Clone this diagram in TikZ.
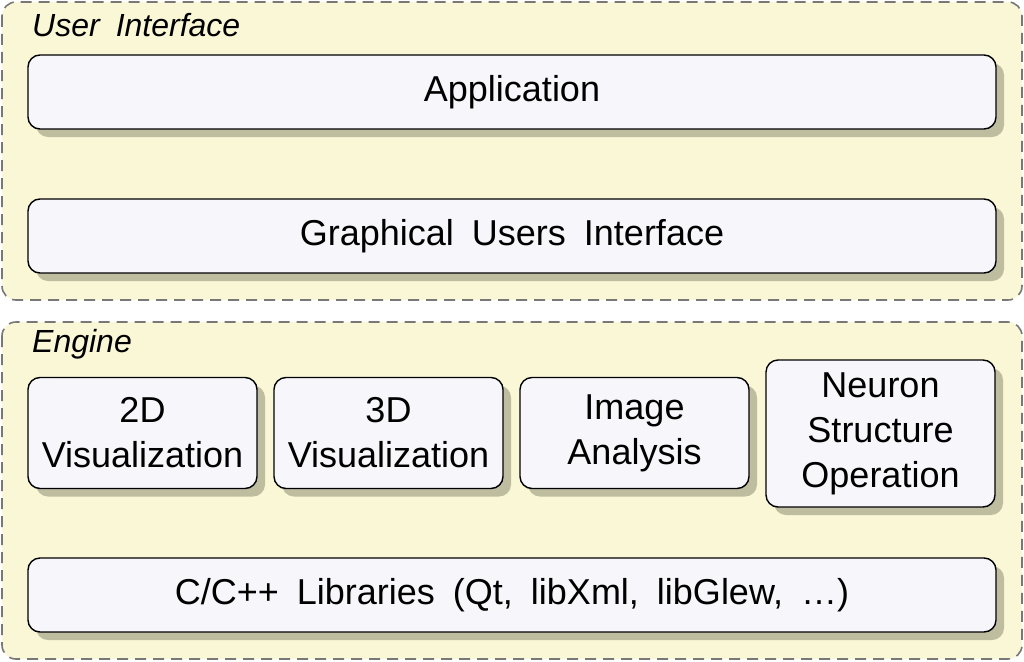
\documentclass[tikz,border=0pt]{standalone}
\usepackage{fontspec}
\setmainfont[WordSpace=1.8]{Liberation Sans}
\usetikzlibrary{shadows}
\definecolor{panelfill}{RGB}{250,247,214}
\definecolor{panelline}{RGB}{120,120,120}
\definecolor{boxfill}{RGB}{247,246,250}
\definecolor{shadowfill}{RGB}{190,189,160}

\begin{document}
\begin{tikzpicture}[x=1pt, y=-1pt,
    panel/.style={draw=panelline, fill=panelfill, line width=1.6pt,
        dash pattern=on 11pt off 7pt, rounded corners=14pt},
    paneltitle/.style={anchor=west, inner sep=0pt, font=\fontsize{32}{36}\selectfont\itshape},
    layer/.style={draw=black, fill=boxfill, line width=1.4pt, rounded corners=12pt,
        inner sep=0pt, align=center, font=\fontsize{36}{45}\selectfont,
        drop shadow={shadow xshift=8pt, shadow yshift=-8pt, fill=shadowfill, opacity=1}},
    wide/.style={layer, minimum width=968pt, minimum height=74pt},
    module/.style={layer, minimum width=229pt, minimum height=111pt}]
    \useasboundingbox (0,0) rectangle (1024,661);
    % panels
    \draw[panel] (2,2) rectangle (1022,300);
    \draw[panel] (2,322) rectangle (1022,659);
    \node[paneltitle] (uititle) at (32,25) {User Interface};
    \node[paneltitle] (engtitle) at (32,344) {Engine};
    % user interface layers
    \node[wide] (app) at (512,92) {Application};
    \node[wide] (gui) at (512,236) {Graphical Users Interface};
    % engine modules
    \node[module] (vis2d) at (142.5,433) {2D\\Visualization};
    \node[module] (vis3d) at (388.5,433) {3D\\Visualization};
    \node[module] (imgana) at (634.5,433) {Image\\Analysis};
    \node[module, minimum height=147pt] (neuron) at (880.5,433.5) {Neuron\\Structure\\Operation};
    \node[wide] (libs) at (512,595) {C/C++ Libraries (Qt, libXml, libGlew, \ldots)};
\end{tikzpicture}
\end{document}
